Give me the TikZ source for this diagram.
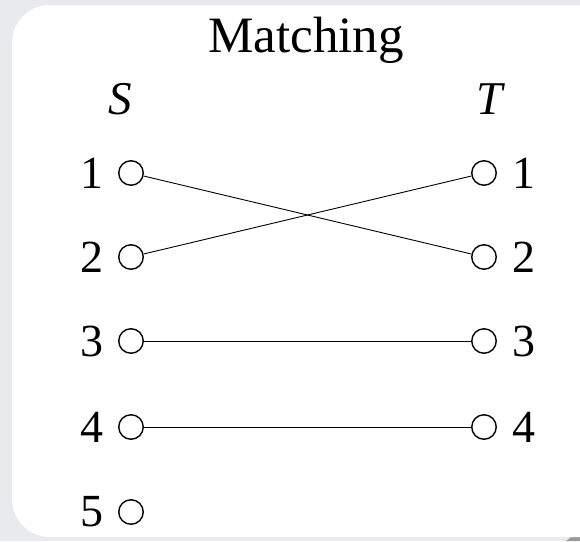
\documentclass[tikz,border=0pt]{standalone}
\usepackage{fontspec}
\setmainfont{Liberation Serif}
\usetikzlibrary{positioning}
\begin{document}
\begin{tikzpicture}[x=1pt,y=-1pt,font=\fontsize{46}{50}\selectfont]
  \definecolor{pagegray}{HTML}{E9EAEC}
  \definecolor{shadowgray}{HTML}{9A9A9A}
  \tikzset{
    vertex/.style={circle,draw,line width=1.4pt,minimum size=24.5pt,inner sep=0pt},
    edge/.style={line width=0.9pt}
  }

  \useasboundingbox (0,0) rectangle (580,541);
  \fill[pagegray] (0,0) rectangle (580,541);
  \fill[shadowgray] (566,541) -- (580,530) -- (580,541) -- cycle;
  \fill[white,rounded corners=38pt] (12,5) rectangle (620,537);

  \node[font=\fontsize{51}{55}\selectfont] (title) at (306,40) {Matching};
  \node[font=\fontsize{47}{50}\selectfont\itshape] (S) at (120,99) {S};
  \node[font=\fontsize{47}{50}\selectfont\itshape] (T) at (490,99) {T};

  % left side
  \foreach \i/\y in {1/173,2/257,3/341,4/427,5/512} {
    \node[vertex] (s\i) at (131,\y) {};
    \node[left=14pt of s\i.west,anchor=east,inner sep=0pt] (sl\i) {\i};
  }
  % right side
  \foreach \i/\y in {1/173,2/257,3/341,4/427} {
    \node[vertex] (t\i) at (484,\y) {};
    \node[right=15pt of t\i.east,anchor=west,inner sep=0pt] (tl\i) {\i};
  }

  \draw[edge] (s1) -- (t2);
  \draw[edge] (s2) -- (t1);
  \draw[edge] (s3) -- (t3);
  \draw[edge] (s4) -- (t4);
\end{tikzpicture}
\end{document}
